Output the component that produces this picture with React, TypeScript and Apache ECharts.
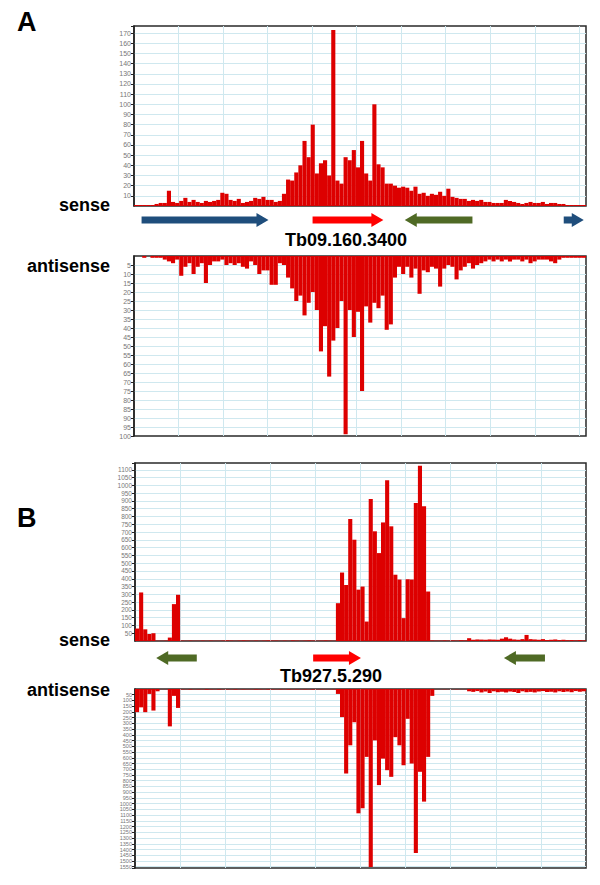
import React, { useEffect, useRef } from 'react';
import * as echarts from 'echarts';

// ---- data ----
const binCount = 110;
const bins: string[] = Array.from({ length: binCount }, (_, i) => String(i));

const aSense = [1,1,1,1,1,2,3,3,15,4,
  3,5,8,4,6,4,3,5,4,5,
  6,13,12,6,5,7,3,4,5,8,
  7,9,6,6,4,5,12,26,25,33,
  40,64,48,80,32,42,45,30,173,25,
  22,48,45,55,38,64,32,25,100,41,
  38,22,22,20,18,19,18,15,19,12,
  13,10,12,11,14,10,17,9,8,7,
  7,5,6,5,6,4,4,3,3,3,
  6,5,4,3,2,3,4,3,3,4,
  2,3,3,2,2,1,1,1,1,1];

const aAntisense = [0,0,1,0,1,1,1,2,3,4,
  2,11,6,4,10,6,4,15,5,3,
  3,2,5,4,5,4,6,7,3,5,
  10,8,8,16,16,4,5,12,18,25,
  22,33,26,20,30,53,39,67,47,40,
  25,99,30,45,31,75,28,37,26,29,
  22,41,38,12,6,10,6,12,7,21,
  8,9,6,7,17,7,5,6,13,8,
  6,4,7,5,4,3,2,3,2,3,
  2,3,2,2,3,2,4,3,2,2,
  2,3,4,2,1,1,1,1,1,1];

const bSense = [80,312,75,45,50,2,2,3,22,237,297,
  3,2,3,2,2,3,2,3,2,2,
  3,4,3,2,3,4,3,2,3,2,
  3,4,3,3,2,3,2,4,3,2,
  3,4,3,2,3,4,3,2,
  243,
  440,360,784,651,330,350,125,912,705,565,762,1033,737,426,395,147,397,395,887,1127,866,318,4,
  3,3,4,3,4,3,5,4,
  18,8,10,9,8,10,9,8,15,24,
  15,10,8,12,39,12,10,8,12,6,
  8,10,6,8,5,6,4,6,4];

const bAntisense = [202,160,202,43,188,20,2,2,326,60,165,
  4,3,5,3,4,3,6,4,3,5,
  3,4,3,5,3,4,3,3,5,4,
  3,5,4,3,4,3,5,3,4,3,
  4,3,5,3,4,3,3,4,
  43,
  245,737,491,290,1084,1040,592,1552,448,838,607,708,766,420,491,665,260,650,1430,722,982,592,60,
  2,2,3,2,2,3,2,2,
  20,25,18,30,22,35,20,28,24,30,
  22,26,35,20,28,25,30,22,18,26,
  24,30,20,26,22,28,18,24,20];

const aSenseTicks = [10,20,30,40,50,60,70,80,90,100,110,120,130,140,150,160,170];
const aAntiTicks = [5,10,15,20,25,30,35,40,45,50,55,60,65,70,75,80,85,90,95,100];
const bSenseTicks = [50,100,150,200,250,300,350,400,450,500,550,600,650,700,750,800,850,900,950,1000,1050,1100];
const bAntiTicks = [50,100,150,200,250,300,350,400,450,500,550,600,650,700,750,800,850,900,950,1000,1050,1100,1150,1200,1250,1300,1350,1400,1450,1500,1550];

const BLUE = '#1f4e7c';
const RED = '#ff0000';
const GREEN = '#4f6a25';

// gene annotations, in grid-column units of each panel
const genesA = [
  { start: 0.17, end: 3.02, color: BLUE },
  { start: 4.01, end: 5.6, color: RED },
  { start: 7.6, end: 6.08, color: GREEN },
  { start: 9.65, end: 10.1, color: BLUE },
];
const genesB = [
  { start: 1.37, end: 0.47, color: GREEN },
  { start: 3.95, end: 5.01, color: RED },
  { start: 9.09, end: 8.18, color: GREEN },
];

const panels = [
  { left: 134, top: 26, width: 452, height: 180, data: aSense, max: 177, interval: 10, ticks: aSenseTicks, inverse: false, fs: 7, cols: 10.15 },
  { left: 134, top: 256, width: 452, height: 180, data: aAntisense, max: 100, interval: 5, ticks: aAntiTicks, inverse: true, fs: 7, cols: 10.15 },
  { left: 135, top: 463, width: 451, height: 178, data: bSense, max: 1144, interval: 50, ticks: bSenseTicks, inverse: false, fs: 6.5, cols: 10 },
  { left: 135, top: 689, width: 451, height: 179, data: bAntisense, max: 1561, interval: 50, ticks: bAntiTicks, inverse: true, fs: 5.5, cols: 10 },
];

const FONT = '"Liberation Sans", Arial, sans-serif';

export default function App() {
  const ref = useRef<HTMLDivElement>(null);
  useEffect(() => {
    if (!ref.current) return;
    const chart = echarts.init(ref.current, null, { renderer: 'svg' });
    const grid: any[] = [];
    const xAxis: any[] = [];
    const yAxis: any[] = [];
    const series: any[] = [];
    panels.forEach((p, i) => {
      grid.push({ left: p.left, top: p.top, width: p.width, height: p.height, show: true, borderColor: '#2a2a2a', borderWidth: 1.5, backgroundColor: '#fff' });
      yAxis.push({
        type: 'value', gridIndex: i, min: 0, max: p.max, interval: p.interval, inverse: p.inverse,
        axisLine: { show: true, lineStyle: { color: '#222', width: 1.5 } },
        axisTick: { show: true, length: 3, lineStyle: { color: '#222', width: 1 } },
        axisLabel: {
          fontSize: p.fs, color: '#777', margin: 3, fontFamily: FONT,
          showMinLabel: false,
          formatter: (v: number) => (p.ticks.includes(v) ? String(v) : ''),
        },
        splitLine: { show: true, showMinLine: false, showMaxLine: false, lineStyle: { color: '#cfe8ef', width: 1 } },
      });
    });
    panels.forEach((p, i) => {
      xAxis.push({ type: 'category', gridIndex: i, data: bins, show: false, boundaryGap: true });
    });
    panels.forEach((p, i) => {
      xAxis.push({
        type: 'value', gridIndex: i, min: 0, max: p.cols, interval: 1, position: 'bottom',
        axisLine: { show: false }, axisTick: { show: false }, axisLabel: { show: false },
        splitLine: { show: true, showMinLine: false, showMaxLine: false, lineStyle: { color: '#cfe8ef', width: 1 } },
      });
    });
    panels.forEach((p, i) => {
      series.push({
        type: 'bar', xAxisIndex: i, yAxisIndex: i, data: p.data, barCategoryGap: '0%',
        itemStyle: { color: '#dd0000' }, silent: true,
      });
    });

    chart.setOption({
      animation: false,
      textStyle: { fontFamily: FONT },
      grid, xAxis, yAxis, series,
    });

    const arrow = (x1: number, x2: number, yc: number, color: string) => {
      const dir = x2 > x1 ? 1 : -1;
      const head = 12;
      const hx = x2 - dir * head;
      return {
        type: 'polygon',
        shape: { points: [[x1, yc - 3.5], [hx, yc - 3.5], [hx, yc - 7], [x2, yc], [hx, yc + 7], [hx, yc + 3.5], [x1, yc + 3.5]] },
        style: { fill: color },
        silent: true,
      };
    };
    const toPx = (axisIdx: number, v: number) => chart.convertToPixel({ xAxisIndex: axisIdx }, v) as number;

    const graphic: any[] = [];
    genesA.forEach((g) => graphic.push(arrow(toPx(4, g.start), toPx(4, g.end), 220, g.color)));
    genesB.forEach((g) => graphic.push(arrow(toPx(6, g.start), toPx(6, g.end), 658, g.color)));

    const txt = (text: string, x: number, y: number, size: number, align: string) => ({
      type: 'text', x, y, silent: true,
      style: { text, fill: '#000', font: `bold ${size}px ${FONT}`, textAlign: align, textVerticalAlign: 'middle' },
    });
    graphic.push(txt('A', 17, 22, 27, 'left'));
    graphic.push(txt('B', 17, 518, 27, 'left'));
    graphic.push(txt('sense', 110, 205, 18, 'right'));
    graphic.push(txt('antisense', 110, 266, 18, 'right'));
    graphic.push(txt('sense', 110, 640, 18, 'right'));
    graphic.push(txt('antisense', 110, 690, 18, 'right'));
    graphic.push(txt('Tb09.160.3400', 346, 240, 18, 'center'));
    graphic.push(txt('Tb927.5.290', 331, 676, 18, 'center'));

    chart.setOption({ graphic });

    return () => chart.dispose();
  }, []);
  return <div ref={ref} style={{ position: 'absolute', left: 0, top: 0, width: 600, height: 885, background: '#fff' }} />;
}
